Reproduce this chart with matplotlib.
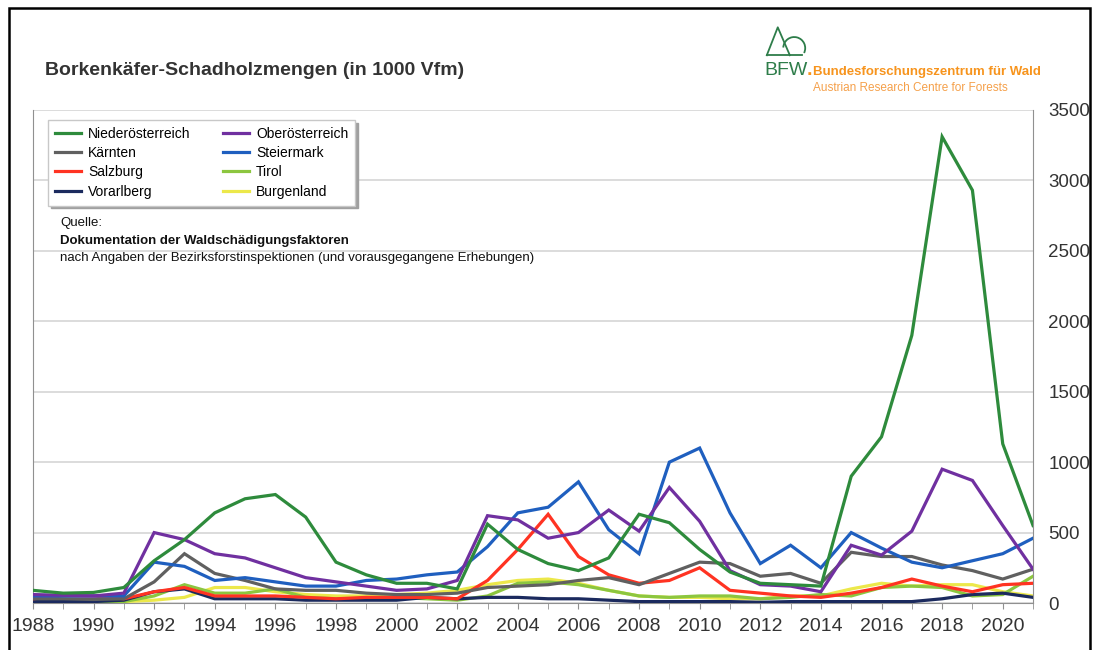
import matplotlib.pyplot as plt
from matplotlib.patches import Rectangle, Arc
from matplotlib.lines import Line2D
import numpy as np

years = np.arange(1988, 2022)

noe = [90, 70, 75, 110, 300, 450, 640, 740, 770, 610, 290, 200, 140, 140, 100, 560, 380,
       280, 230, 320, 630, 570, 380, 220, 140, 130, 120, 900, 1180, 1900, 3310, 2930, 1130, 550]
ooe = [60, 55, 50, 70, 500, 450, 350, 320, 250, 180, 150, 120, 90, 100, 160, 620, 590,
       460, 500, 660, 510, 820, 580, 230, 130, 120, 80, 410, 340, 510, 950, 870, 550, 240]
ktn = [30, 30, 25, 30, 150, 350, 210, 160, 100, 90, 90, 70, 60, 60, 70, 110, 120,
       130, 160, 180, 130, 210, 290, 280, 190, 210, 140, 360, 330, 330, 270, 230, 170, 240]
stmk = [50, 50, 50, 50, 290, 260, 160, 180, 150, 120, 120, 160, 170, 200, 220, 400, 640,
        680, 860, 520, 350, 1000, 1100, 640, 280, 410, 250, 500, 390, 290, 250, 300, 350, 460]
sbg = [30, 50, 50, 30, 80, 110, 50, 50, 50, 40, 30, 40, 40, 40, 30, 160, 380,
       630, 330, 200, 140, 160, 250, 90, 70, 50, 40, 70, 110, 170, 120, 80, 130, 140]
tirol = [10, 10, 10, 10, 50, 130, 70, 70, 100, 40, 30, 30, 40, 30, 20, 50, 140,
         150, 130, 90, 50, 40, 50, 50, 30, 40, 60, 50, 110, 120, 110, 50, 60, 190]
vbg = [10, 10, 10, 20, 80, 100, 30, 30, 30, 20, 20, 20, 20, 40, 30, 40, 40,
       30, 30, 20, 10, 10, 10, 10, 5, 10, 10, 10, 10, 10, 30, 60, 70, 40]
bgld = [10, 10, 10, 10, 20, 40, 110, 110, 80, 60, 50, 50, 60, 70, 90, 130, 160,
        170, 140, 90, 50, 40, 40, 30, 30, 50, 50, 100, 140, 120, 130, 130, 80, 50]

names = ['Niederösterreich', 'Oberösterreich', 'Kärnten', 'Steiermark',
         'Salzburg', 'Tirol', 'Vorarlberg', 'Burgenland']
series = [noe, ooe, ktn, stmk, sbg, tirol, vbg, bgld]
colors = ['#2e8b3c', '#7030a0', '#606060', '#1f5fbf',
          '#ff3322', '#8cc63f', '#1b2a5e', '#ece84a']
# draw order: small ones behind
order = [7, 5, 6, 4, 2, 3, 1, 0]

arial = ['Liberation Sans', 'DejaVu Sans']

fig = plt.figure(figsize=(10.97, 6.5), dpi=100)
ax = fig.add_axes([0.030, 0.0723, 0.9117, 0.7585])

lines = {}
for i in order:
    ln, = ax.plot(years, series[i], color=colors[i], lw=2.3, label=names[i],
                  solid_joinstyle='miter', zorder=3)
    lines[i] = ln

ax.set_xlim(1988, 2021)
ax.set_ylim(0, 3500)
ax.set_yticks(np.arange(0, 3501, 500))
ax.set_xticks(np.arange(1988, 2021, 2))
ax.set_xticks(years, minor=True)
ax.yaxis.tick_right()
ax.grid(axis='y', color='#d9d9d9', lw=1.3, zorder=0)
ax.spines['top'].set_visible(False)
for s in ['left', 'right', 'bottom']:
    ax.spines[s].set_color('#909090')
ax.tick_params(axis='x', which='both', direction='out', length=4, color='#909090',
               labelsize=14, labelcolor='#333333', pad=7)
ax.tick_params(axis='y', length=0, labelsize=13.5, labelcolor='#333333', pad=11)
for t in ax.get_xticklabels() + ax.get_yticklabels():
    t.set_family(arial)

# legend rows: NOE/OOE, KTN/STMK, SBG/Tirol, VBG/BGLD
col1 = [lines[0], lines[2], lines[4], lines[6]]
col2 = [lines[1], lines[3], lines[5], lines[7]]
leg = ax.legend(col1 + col2, [h.get_label() for h in col1 + col2], ncol=2,
                loc='upper left', bbox_to_anchor=(0.015, 0.98), frameon=True,
                fancybox=False, edgecolor='#c8c8c8', framealpha=1,
                shadow={'color': '#a0a0a0', 'alpha': 1}, prop={'family': arial, 'size': 10},
                handlelength=1.9, labelspacing=0.38, columnspacing=2.3,
                borderpad=0.5, handletextpad=0.5, borderaxespad=0)
leg.set_zorder(5)

ax.text(0.027, 0.765, 'Quelle:', transform=ax.transAxes, fontsize=9.5,
        family=arial, color='#111111')
ax.text(0.027, 0.729, 'Dokumentation der Waldschädigungsfaktoren', transform=ax.transAxes,
        fontsize=9.5, family=arial, weight='bold', color='#111111')
ax.text(0.027, 0.693, 'nach Angaben der Bezirksforstinspektionen (und vorausgegangene Erhebungen)',
        transform=ax.transAxes, fontsize=9.5, family=arial, color='#111111')

fig.text(0.041, 0.885, 'Borkenkäfer-Schadholzmengen (in 1000 Vfm)', fontsize=14,
         weight='bold', color='#333333', family=arial)

# logo
green = '#2e7d4a'
orange = '#f7941d'
fig.text(0.697, 0.885, 'BFW', fontsize=14, color=green, family=arial)
fig.text(0.735, 0.885, '.', fontsize=14, color=orange, weight='bold', family=arial)
fig.add_artist(Line2D([0.699, 0.709, 0.720], [0.915, 0.958, 0.915],
                      transform=fig.transFigure, color=green, lw=1.3))
fig.add_artist(Line2D([0.699, 0.731], [0.915, 0.915],
                      transform=fig.transFigure, color=green, lw=1.3))
fig.add_artist(Arc((0.724, 0.926), 0.02, 0.034, theta1=-40, theta2=175,
                   transform=fig.transFigure, color=green, lw=1.3))
fig.text(0.741, 0.885, 'Bundesforschungszentrum für Wald', fontsize=9.5, color=orange,
         weight='bold', family=arial)
fig.text(0.741, 0.86, 'Austrian Research Centre for Forests', fontsize=8.5, color='#f5a04a',
         family=arial)

# outer frame
fig.add_artist(Rectangle((0.008, -0.05), 0.986, 1.038, transform=fig.transFigure,
                         fill=False, edgecolor='black', lw=1.8))

fig.savefig('out.png', dpi=100)
